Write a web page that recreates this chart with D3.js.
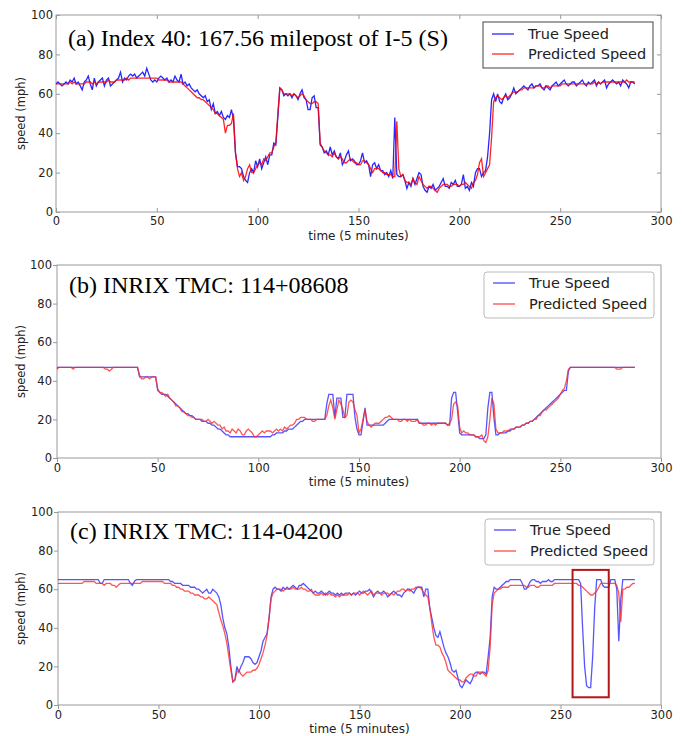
<!DOCTYPE html>
<html>
<head>
<meta charset="UTF-8">
<title>True vs Predicted Speed</title>
<script src="https://cdn.jsdelivr.net/npm/d3@7"></script>
<style>
  body { margin: 0; background: #fff; }
  text { font-family: "DejaVu Sans", sans-serif; }
</style>
</head>
<body>
<div id="chart"></div>
<script>
// time axis: 288 five-minute intervals
var timeSteps = d3.range(288);
var xTicks = [0, 50, 100, 150, 200, 250, 300];
var yTicks = [0, 20, 40, 60, 80, 100];
var legendLabels = ["True Speed", "Predicted Speed"];
var titles = ["(a) Index 40: 167.56 milepost of I-5 (S)", "(b) INRIX TMC: 114+08608", "(c) INRIX TMC: 114-04200"];

// panel (a)
var trueA = [
65,66,65,64,65,66,65,67,66,68, 65,66,64,62,66,67,69,65,62,68,
64,66,67,68,64,67,68,64,65,66, 67,68,71,66,68,67,69,70,69,70,
68,69,70,71,69,73,70,67,66,67, 66,68,69,68,67,68,66,67,66,69,
67,66,70,65,66,64,65,63,62,61, 62,60,59,58,59,56,57,52,55,50,
51,49,51,48,47,49,48,52,47,30, 23,23,22,18,16,15,20,22,20,26,
23,27,22,25,28,24,29,29,35,34, 48,63,62,59,60,59,60,58,60,59,
57,60,62,58,57,52,52,58,59,53, 53,34,33,30,31,29,33,29,31,28,
27,30,24,26,29,31,26,27,26,24, 24,26,30,25,26,24,18,24,25,22,
24,21,21,19,20,18,21,17,48,19, 18,18,19,16,12,15,13,17,14,17,
20,19,13,11,10,13,12,14,11,12, 13,15,17,13,13,12,15,14,16,13,
13,14,19,12,13,11,15,13,20,22, 22,18,20,21,28,40,57,60,56,60,
56,55,58,60,57,58,60,63,60,61, 62,63,64,63,62,64,65,63,64,64,
65,63,62,64,63,62,64,65,66,64, 65,66,67,65,64,65,66,66,64,65,
66,67,65,64,66,65,66,67,64,66, 65,66,67,63,65,66,67,66,65,66,
64,67,66,65,63,66,66,65];
var predA = [
65,65,65,65,65,65,65,66,65,66, 65,65,65,65,65,66,66,66,65,66,
65,66,66,66,66,66,67,66,66,66, 67,67,67,67,67,68,67,68,68,68,
68,68,68,68,68,68,68,68,68,68, 68,67,67,67,67,67,66,66,66,66,
66,66,66,65,64,63,62,61,60,59, 58,58,57,57,56,55,54,53,52,50,
50,49,48,47,40,44,44,45,50,30, 22,18,20,16,18,22,24,20,20,22,
24,25,24,27,26,28,30,30,33,35, 50,63,62,60,60,60,60,59,60,59,
58,59,60,59,57,56,55,55,56,56, 55,35,33,31,30,29,29,28,30,28,
27,28,27,25,25,26,27,26,25,25, 24,24,26,26,25,24,22,20,22,22,
22,21,20,20,19,19,19,18,18,46, 22,18,19,16,15,15,14,17,15,14,
18,16,14,13,12,13,13,12,11,10, 12,13,14,14,14,13,13,14,14,14,
13,14,14,15,14,13,12,15,16,19, 25,27,18,20,22,24,38,56,58,59,
58,57,58,59,58,59,60,61,61,61, 62,62,63,63,63,63,63,63,64,64,
64,63,63,64,64,63,64,64,64,64, 64,65,65,65,65,65,65,65,65,65,
65,65,65,65,65,65,65,66,65,66, 65,66,66,66,66,66,66,66,66,66,
66,66,66,67,66,66,66,66];

// panel (b)
var trueB = [
47,47,47,47,47,47,47,47,47,47, 47,47,47,47,47,47,47,47,47,47,
47,47,47,47,47,47,47,47,47,47, 47,47,47,47,47,47,47,47,47,47,
47,42,42,42,42,42,42,42,42,42, 35,34,33,33,33,32,31,30,29,28,
27,26,25,24,23,23,22,22,21,20, 20,20,19,19,19,18,18,17,17,16,
15,15,14,13,12,12,11,11,11,11, 11,11,11,11,11,11,11,11,11,11,
11,11,11,11,11,11,11,12,12,13, 13,13,13,14,14,15,15,15,16,17,
18,19,19,20,20,20,20,20,20,20, 20,20,20,20,28,33,33,33,21,31,
31,31,21,21,33,33,33,33,21,15, 12,12,19,26,17,17,17,17,17,17,
17,17,17,18,19,20,20,20,20,20, 20,20,20,20,20,20,20,20,20,20,
18,18,18,18,18,18,18,18,18,18, 18,18,18,18,17,17,31,34,34,24,
13,12,12,12,12,12,12,12,11,11, 10,10,10,12,26,34,34,21,12,12,
13,13,13,13,14,14,15,15,16,16, 16,17,17,18,18,19,19,20,21,22,
23,24,25,26,27,28,29,30,31,32, 33,34,35,35,45,47,47,47,47,47,
47,47,47,47,47,47,47,47,47,47, 47,47,47,47,47,47,47,47,47,47,
47,47,47,47,47,47,47,47];
var predB = [
46,47,47,47,47,47,47,47,46,47, 47,47,47,47,47,47,47,47,47,47,
47,47,47,47,46,46,45,46,47,47, 47,47,47,47,47,47,47,47,47,47,
47,43,41,41,42,42,41,42,42,42, 36,34,34,33,32,33,31,30,29,27,
27,26,24,24,23,22,22,21,21,20, 20,20,20,19,19,20,19,18,19,18,
17,17,15,16,14,14,13,15,14,13, 15,14,12,12,14,15,14,13,11,11,
12,13,14,13,14,14,14,13,14,15, 14,15,14,16,15,16,17,17,18,20,
20,21,21,21,20,20,20,19,19,20, 20,20,20,20,22,27,30,26,20,25,
30,28,25,21,22,29,30,29,25,22, 13,15,20,25,19,17,16,17,18,18,
18,19,20,21,21,22,21,20,20,20, 19,19,20,20,19,20,19,19,19,20,
18,18,17,17,18,18,17,18,17,18, 18,18,18,18,17,18,20,28,29,27,
16,13,14,13,13,12,12,12,11,11, 11,12,9,8,11,20,31,28,15,13,
13,13,14,14,14,15,15,15,16,16, 16,17,17,18,18,19,19,20,20,22,
22,24,25,25,26,27,28,29,30,31, 33,35,36,40,46,47,47,47,47,47,
47,47,47,47,47,47,47,47,47,47, 47,47,47,47,47,47,47,47,46,46,
46,47,47,47,47,47,47,47];

// panel (c)
var trueC = [
65,65,65,65,65,65,65,65,65,65, 65,65,65,65,65,65,65,65,65,65,
65,63,63,65,65,65,65,65,65,65, 65,65,65,65,65,65,63,62,64,65,
65,65,65,65,65,65,65,65,65,65, 65,65,65,65,65,65,64,64,63,63,
63,63,62,62,62,62,61,61,61,60, 60,59,58,59,60,58,58,60,59,58,
56,52,45,40,37,30,20,12,13,20, 17,20,22,25,25,25,24,22,21,22,
25,28,33,35,37,45,56,60,61,60, 60,59,61,60,61,60,61,62,61,60,
62,62,63,62,61,60,59,58,59,58, 58,59,58,57,58,59,58,58,57,58,
57,58,57,58,58,58,57,58,57,58, 59,58,58,59,59,60,58,56,58,59,
58,58,59,58,56,57,58,59,58,57, 57,56,58,59,60,60,59,58,60,61,
61,61,56,60,60,50,45,40,36,35, 38,34,30,27,25,22,18,17,18,14,
10,9,11,13,12,11,13,16,17,17, 16,17,17,16,25,35,56,61,60,60,
61,62,63,64,64,65,65,65,65,65, 65,63,60,60,62,64,65,65,64,64,
63,64,64,64,65,64,64,65,65,65, 65,65,65,65,65,65,65,65,65,65,
63,40,20,10,9,9,25,50,65,65, 65,62,61,61,61,65,65,65,60,33,
55,65,65,65,65,65,65,65];
var predC = [
63,63,63,63,63,63,63,63,63,63, 63,63,63,64,64,64,64,64,64,63,
63,63,63,62,63,63,63,62,62,61, 62,63,63,63,63,63,63,63,63,63,
63,63,64,64,64,64,64,64,64,64, 64,64,64,63,63,63,63,62,62,61,
61,60,60,59,59,59,58,58,57,57, 57,56,56,55,55,56,55,54,53,52,
48,44,41,37,32,25,18,12,13,17, 18,16,15,16,17,17,17,18,18,19,
21,24,27,31,36,45,55,58,59,60, 60,60,59,60,60,60,60,61,60,60,
60,61,60,60,59,59,60,58,57,57, 57,58,57,58,57,58,57,57,56,57,
56,57,57,57,57,58,57,58,58,58, 57,58,59,58,57,58,59,57,58,58,
58,57,58,58,58,57,58,57,58,59, 59,60,60,59,60,59,60,60,61,61,
61,60,58,57,56,50,42,35,31,31, 30,27,25,22,18,17,16,15,14,13,
13,12,12,14,15,16,16,15,15,17, 17,17,16,15,18,30,52,58,59,60,
60,61,61,61,61,62,62,62,62,62, 62,62,62,61,61,62,62,62,61,61,
62,62,62,62,62,62,62,63,63,63, 63,63,63,63,63,63,63,63,63,62,
62,61,60,59,58,57,57,58,59,61, 63,63,63,63,63,63,63,63,62,58,
43,60,60,61,61,62,63,63];

// highlighted anomaly in panel (c): [time start, time end, speed low, speed high]
var highlightC = [256, 274, 4, 70];

var svg = d3.select("#chart")
  .append("svg")
    .attr("width", 682)
    .attr("height", 736);

var panels = [
  {title: titles[0], trueSpeed: trueA, predSpeed: predA, top: 15, bottom: 212, left: 56,
   oldStyle: true, titleY: 46, legend: {x: 483, y: 22, w: 170, h: 46, l1: 34, l2: 54}},
  {title: titles[1], trueSpeed: trueB, predSpeed: predB, top: 265, bottom: 458, left: 57,
   oldStyle: false, titleY: 293, legend: {x: 484, y: 272, w: 170, h: 46, l1: 283, l2: 304}},
  {title: titles[2], trueSpeed: trueC, predSpeed: predC, top: 512, bottom: 705, left: 58,
   oldStyle: false, titleY: 539, legend: {x: 485, y: 519, w: 169, h: 46, l1: 530, l2: 551}, box: highlightC}
];

var right = 661;

panels.forEach(function(p) {
  var x = d3.scaleLinear().domain([0, 300]).range([p.left, right]);
  var y = d3.scaleLinear().domain([0, 100]).range([p.bottom, p.top]);
  var g = svg.append("g");

  var tick = p.oldStyle ? -4 : 4;

  // bottom axis
  g.append("g")
    .attr("class", "axis")
    .attr("transform", "translate(0," + p.bottom + ")")
    .call(d3.axisBottom(x).tickValues(xTicks).tickSize(tick).tickPadding(p.oldStyle ? 5 : 1.5));

  // left axis
  g.append("g")
    .attr("class", "axis")
    .attr("transform", "translate(" + p.left + ",0)")
    .call(d3.axisLeft(y).tickValues(yTicks).tickSize(tick).tickPadding(p.oldStyle ? 3 : 1));

  // old matplotlib style also puts ticks on top and right
  if (p.oldStyle) {
    g.append("g")
      .attr("class", "axis")
      .attr("transform", "translate(0," + p.top + ")")
      .call(d3.axisTop(x).tickValues(xTicks).tickSize(-4).tickFormat(""));
    g.append("g")
      .attr("class", "axis")
      .attr("transform", "translate(" + right + ",0)")
      .call(d3.axisRight(y).tickValues(yTicks).tickSize(-4).tickFormat(""));
  }

  g.selectAll(".axis .domain").remove();
  g.selectAll(".axis line").attr("stroke", "#999");
  g.selectAll(".axis text")
    .attr("fill", "#222")
    .style("font-size", "11.5px")
    .style("font-family", "DejaVu Sans");

  // frame
  g.append("rect")
    .attr("x", p.left)
    .attr("y", p.top)
    .attr("width", right - p.left)
    .attr("height", p.bottom - p.top)
    .attr("fill", "none")
    .attr("stroke", "#999")
    .attr("stroke-width", 1);

  // axis labels
  g.append("text")
    .attr("x", (p.left + right) / 2)
    .attr("y", p.bottom + 28)
    .attr("text-anchor", "middle")
    .style("font-size", "12px")
    .attr("fill", "#222")
    .text("time (5 minutes)");

  g.append("text")
    .attr("transform", "translate(25," + (p.top + p.bottom) / 2 + ") rotate(-90)")
    .attr("text-anchor", "middle")
    .style("font-size", "11.5px")
    .attr("fill", "#222")
    .text("speed (mph)");

  // the two series
  var line = d3.line()
    .x(function(d, i) { return x(timeSteps[i]); })
    .y(function(d) { return y(d); });

  g.append("path")
    .datum(p.trueSpeed)
    .attr("fill", "none")
    .attr("stroke", p.oldStyle ? "#0000ff" : "#2a2aff")
    .attr("stroke-opacity", p.oldStyle ? 0.85 : 0.8)
    .attr("stroke-width", 1.3)
    .attr("d", line);

  g.append("path")
    .datum(p.predSpeed)
    .attr("fill", "none")
    .attr("stroke", p.oldStyle ? "#ff0000" : "#ff2a2a")
    .attr("stroke-opacity", p.oldStyle ? 0.85 : 0.8)
    .attr("stroke-width", 1.3)
    .attr("d", line);

  // highlight box
  if (p.box) {
    g.append("rect")
      .attr("x", x(p.box[0]))
      .attr("y", y(p.box[3]))
      .attr("width", x(p.box[1]) - x(p.box[0]))
      .attr("height", y(p.box[2]) - y(p.box[3]))
      .attr("fill", "none")
      .attr("stroke", "#b01818")
      .attr("stroke-width", 2);
  }

  // title
  g.append("text")
    .attr("x", p.left + 12)
    .attr("y", p.titleY)
    .style("font-family", "Liberation Serif")
    .style("font-size", "24px")
    .attr("fill", "#000")
    .text(p.title);

  // legend
  var L = p.legend;
  g.append("rect")
    .attr("x", L.x)
    .attr("y", L.y)
    .attr("width", L.w)
    .attr("height", L.h)
    .attr("rx", p.oldStyle ? 0 : 3)
    .attr("fill", "#fff")
    .attr("stroke", p.oldStyle ? "#444" : "#bbb")
    .attr("stroke-width", 1);

  var colors = [p.oldStyle ? "#0000ff" : "#2a2aff", p.oldStyle ? "#ff0000" : "#ff2a2a"];
  [L.l1, L.l2].forEach(function(ly, i) {
    g.append("line")
      .attr("x1", L.x + 9)
      .attr("x2", L.x + 31)
      .attr("y1", ly)
      .attr("y2", ly)
      .attr("stroke", colors[i])
      .attr("stroke-opacity", 0.85)
      .attr("stroke-width", 1.3);
    g.append("text")
      .attr("x", L.x + 45)
      .attr("y", ly + 5)
      .style("font-size", "14.5px")
      .attr("fill", "#222")
      .text(legendLabels[i]);
  });
});
</script>
</body>
</html>
